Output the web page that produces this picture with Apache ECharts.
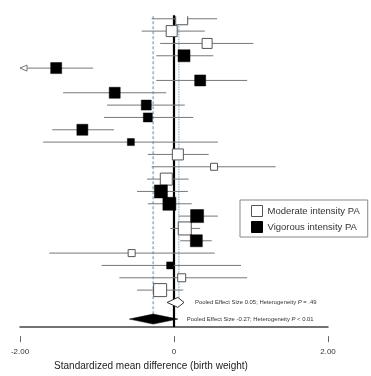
<!DOCTYPE html>
<html>
<head>
<meta charset="utf-8">
<script src="https://cdn.jsdelivr.net/npm/echarts@6/dist/echarts.min.js"></script>
<style>
  html, body { margin: 0; padding: 0; background: #fff; }
  #chart { width: 371px; height: 376px; }
</style>
</head>
<body>
<div id="chart"></div>
<script>
// study rows, top to bottom (1 = first study)
const studyRow  = [1, 2, 3, 4, 5, 6, 7, 8, 9, 10, 11, 12, 13, 14, 15, 16, 17, 18, 19, 20, 21, 22, 23];
const effect    = [0.10, -0.03, 0.43, 0.13, -1.53, 0.34, -0.77, -0.36, -0.34, -1.19, -0.56, 0.05, 0.52, -0.10, -0.17, -0.06, 0.30, 0.14, 0.29, -0.55, -0.05, 0.10, -0.18];
const lowerCI   = [-0.29, -0.42, -0.18, -0.23, -2.40, -0.23, -1.44, -0.87, -0.91, -1.58, -1.70, -0.34, -0.29, -0.35, -0.48, -0.34, 0.06, -0.05, 0.08, -1.62, -0.94, -0.71, -0.48];
const upperCI   = [0.56, 0.40, 1.03, 0.51, -1.05, 0.95, -0.10, 0.14, 0.25, -0.78, 0.57, 0.45, 1.32, 0.19, 0.18, 0.23, 0.57, 0.34, 0.49, 0.53, 0.87, 0.95, 0.12];
const weight    = [6.0, 5.5, 5.0, 6.0, 5.5, 5.5, 5.5, 5.0, 4.5, 5.5, 3.5, 5.5, 3.5, 6.0, 6.5, 6.5, 6.5, 6.5, 6.0, 3.5, 3.5, 4.0, 6.5];
const intensity = ['M', 'M', 'M', 'V', 'V', 'V', 'V', 'V', 'V', 'V', 'V', 'M', 'M', 'M', 'V', 'V', 'V', 'M', 'V', 'M', 'V', 'M', 'M'];

const seriesNames = ['Moderate intensity PA', 'Vigorous intensity PA'];

// pooled estimates
const pooledRow    = [24, 25.35];
const pooledEffect = [0.05, -0.27];
const pooledLower  = [-0.09, -0.58];
const pooledUpper  = [0.13, 0.05];
const pooledText   = ['Pooled Effect Size 0.05; Heterogeneity ', 'Pooled Effect Size -0.27; Heterogeneity '];
const pooledP      = [' = .49', ' < 0.01'];

const xTicks = [-2, 0, 2];
const xTitle = 'Standardized mean difference (birth weight)';

const FONT = '"Liberation Sans", Arial, sans-serif';
const X_MIN = -2, X_MAX = 2, Y_MIN = 0.8, Y_MAX = 26;

const chart = echarts.init(document.getElementById('chart'), null, { renderer: 'canvas' });

function studyData(code) {
  const out = [];
  studyRow.forEach((r, i) => {
    if (intensity[i] === code) out.push([effect[i], r, lowerCI[i], upperCI[i], weight[i]]);
  });
  return out;
}

function renderStudy(open) {
  return function (params, api) {
    const m = api.value(0), y = api.value(1), lo = api.value(2), hi = api.value(3), w = api.value(4);
    const c = api.coord([m, y]);
    const pLo = api.coord([Math.max(lo, X_MIN), y]);
    const pHi = api.coord([Math.min(hi, X_MAX), y]);
    const s = w * 2;
    const children = [{
      type: 'line',
      shape: { x1: pLo[0], y1: pLo[1], x2: pHi[0], y2: pHi[1] },
      style: { stroke: '#777', lineWidth: 1 }
    }];
    if (lo < X_MIN) {
      children.push({
        type: 'polygon',
        shape: { points: [[pLo[0], pLo[1]], [pLo[0] + 7, pLo[1] - 3], [pLo[0] + 7, pLo[1] + 3]] },
        style: { fill: '#fff', stroke: '#777', lineWidth: 1 }
      });
    }
    children.push({
      type: 'rect',
      shape: { x: c[0] - s / 2, y: c[1] - s / 2, width: s, height: s },
      style: open ? { fill: '#fff', stroke: '#555', lineWidth: 1 } : { fill: '#000', stroke: '#000', lineWidth: 0.5 }
    });
    return { type: 'group', children };
  };
}

// reference lines: null line and the two pooled estimates
function renderRefs(params, api) {
  const top = api.coord([0, Y_MIN])[1];
  const zero = api.coord([0, Y_MAX]);
  const pm = api.coord([pooledEffect[0], pooledRow[0]]);
  const pv = api.coord([pooledEffect[1], pooledRow[1]]);
  return {
    type: 'group',
    children: [
      { type: 'line', shape: { x1: pv[0], y1: top, x2: pv[0], y2: pv[1] }, style: { stroke: '#a3bccd', lineWidth: 1.8, lineDash: [3, 2] } },
      { type: 'line', shape: { x1: pm[0] + 1, y1: top, x2: pm[0] + 1, y2: pm[1] }, style: { stroke: '#8fb3cf', lineWidth: 1.2, lineDash: [1.5, 1] } },
      { type: 'line', shape: { x1: zero[0], y1: top - 1, x2: zero[0], y2: zero[1] }, style: { stroke: '#000', lineWidth: 2.2 } }
    ]
  };
}

function renderPooled(params, api) {
  const i = params.dataIndex;
  const m = api.value(0), y = api.value(1), lo = api.value(2), hi = api.value(3);
  const c = api.coord([m, y]);
  const l = api.coord([lo, y]);
  const r = api.coord([hi, y]);
  const h = 5;
  const filled = i === 1;
  return {
    type: 'group',
    children: [
      {
        type: 'polygon',
        shape: { points: [[l[0], c[1]], [c[0], c[1] - h], [r[0], c[1]], [c[0], c[1] + h]] },
        style: filled ? { fill: '#000', stroke: '#000', lineWidth: 0.5 } : { fill: '#fff', stroke: '#333', lineWidth: 1 }
      },
      {
        type: 'text',
        x: r[0] + (filled ? 9 : 11),
        y: c[1],
        style: {
          text: '{a|' + pooledText[i] + '}{p|P}{a|' + pooledP[i] + '}',
          verticalAlign: 'middle',
          align: 'left',
          rich: {
            a: { fontSize: 5.9, fill: '#333', fontFamily: FONT },
            p: { fontSize: 5.9, fill: '#333', fontFamily: FONT, fontStyle: 'italic' }
          }
        }
      }
    ]
  };
}

const pooledData = pooledRow.map((r, i) => [pooledEffect[i], r, pooledLower[i], pooledUpper[i]]);

chart.setOption({
  animation: false,
  backgroundColor: '#fff',
  grid: { left: 20, right: 43, top: 16.3, bottom: 48 },
  xAxis: [
    {
      type: 'value', min: X_MIN, max: X_MAX, position: 'bottom',
      axisLine: { show: true, lineStyle: { color: '#444', width: 1.5 } },
      axisTick: { show: false }, axisLabel: { show: false }, splitLine: { show: false }
    },
    {
      type: 'value', min: X_MIN, max: X_MAX, interval: 2, position: 'bottom', offset: 9,
      axisLine: { show: false },
      axisTick: { show: true, length: 6, lineStyle: { color: '#666', width: 1 } },
      axisLabel: {
        margin: 12, fontSize: 8, color: '#333', fontFamily: FONT,
        formatter: v => (xTicks.includes(v) ? (v === 0 ? '0' : v.toFixed(2)) : '')
      },
      splitLine: { show: false },
      name: xTitle, nameLocation: 'middle', nameGap: 24,
      nameTextStyle: { fontSize: 10, color: '#222', fontFamily: FONT, padding: [0, 46, 0, 0] }
    }
  ],
  yAxis: {
    type: 'value', min: Y_MIN, max: Y_MAX, inverse: true, show: false
  },
  legend: {
    orient: 'vertical', left: 240, top: 200,
    padding: [5, 8, 4, 11], itemGap: 4, itemWidth: 11, itemHeight: 11,
    borderColor: '#888', borderWidth: 1, icon: 'rect',
    textStyle: { fontSize: 9.5, color: '#333', fontFamily: FONT },
    data: [
      { name: seriesNames[0], itemStyle: { color: '#fff', borderColor: '#555', borderWidth: 1 } },
      { name: seriesNames[1], itemStyle: { color: '#000', borderColor: '#000', borderWidth: 1 } }
    ]
  },
  series: [
    {
      type: 'custom', name: 'refs', silent: true, clip: false,
      renderItem: renderRefs, data: [[0, 0]], z: 1
    },
    {
      type: 'custom', name: seriesNames[0], clip: true, z: 3,
      itemStyle: { color: '#fff', borderColor: '#555' },
      renderItem: renderStudy(true), data: studyData('M'),
      encode: { x: [0, 2, 3], y: 1 }
    },
    {
      type: 'custom', name: seriesNames[1], clip: true, z: 3,
      itemStyle: { color: '#000' },
      renderItem: renderStudy(false), data: studyData('V'),
      encode: { x: [0, 2, 3], y: 1 }
    },
    {
      type: 'custom', name: 'pooled', clip: false, z: 4,
      renderItem: renderPooled, data: pooledData,
      encode: { x: [0, 2, 3], y: 1 }
    }
  ]
});
</script>
</body>
</html>
